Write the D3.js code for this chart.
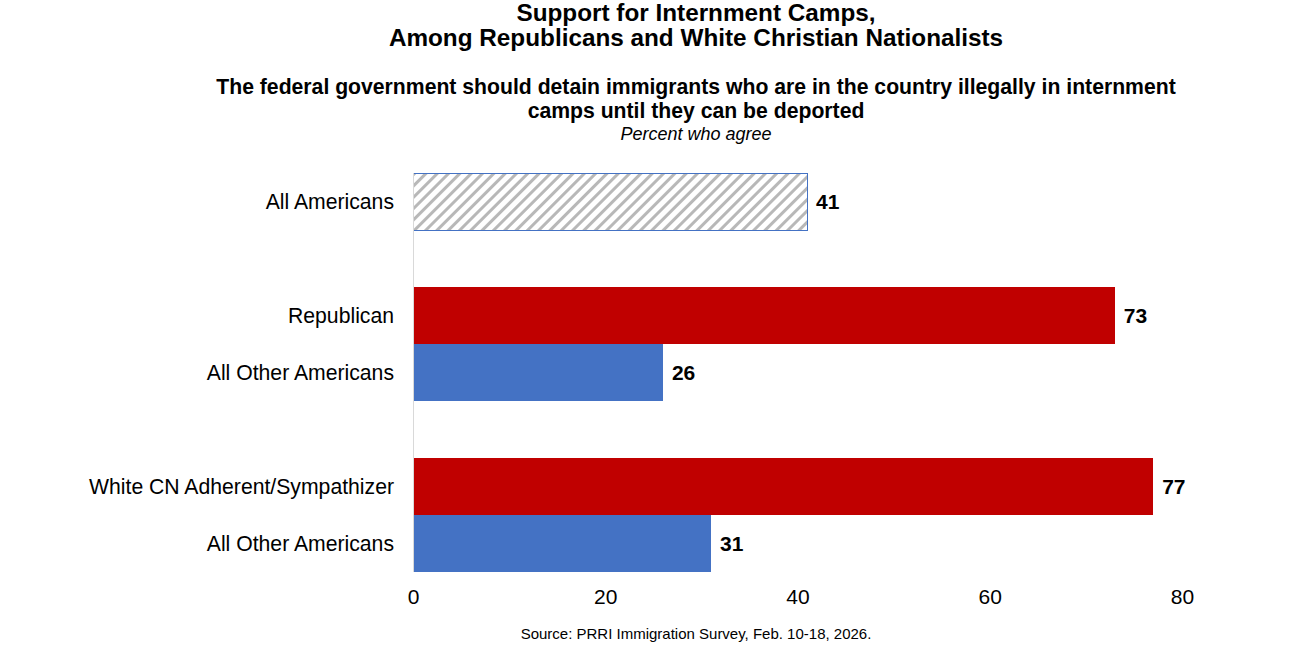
<!DOCTYPE html>
<html>
<head>
  <meta charset="UTF-8">
  <title>Support for Internment Camps</title>
  <script src="https://d3js.org/d3.v7.min.js"></script>
  <style>
    body { margin: 0; background: #fff; font-family: "Liberation Sans", Arial, sans-serif; }
    .title { font-size: 24.3px; font-weight: bold; }
    .subtitle { font-size: 21.2px; font-weight: bold; }
    .note { font-size: 18px; font-style: italic; }
    .source { font-size: 15px; }
    .cat-label { font-size: 21.2px; }
    .value-label { font-size: 21px; font-weight: bold; }
    .x-axis text { font-size: 21px; font-family: "Liberation Sans", Arial, sans-serif; }
    .x-axis path, .x-axis line { display: none; }
  </style>
</head>
<body>
  <svg width="1300" height="650"></svg>

  <script>
    // rows top to bottom, blank ids are the gaps between groups
    const rowIds = ["all", "gap1", "rep", "oth1", "gap2", "wcn", "oth2"];
    const labels = ["All Americans", "", "Republican", "All Other Americans", "", "White CN Adherent/Sympathizer", "All Other Americans"];
    const values = [41, null, 73, 26, null, 77, 31];
    const kinds = ["hatch", null, "red", "blue", null, "red", "blue"];
    const xTicks = [0, 20, 40, 60, 80];

    const rows = rowIds.map((id, i) => ({ id: id, label: labels[i], value: values[i], kind: kinds[i] }));

    const svg = d3.select("svg");
    const margin = { top: 173, right: 118, bottom: 78, left: 413 };
    const width = 1300 - margin.left - margin.right;
    const height = 650 - margin.top - margin.bottom;

    const defs = svg.append("defs");
    const pat = defs.append("pattern")
      .attr("id", "hatch")
      .attr("patternUnits", "userSpaceOnUse")
      .attr("width", 8)
      .attr("height", 8)
      .attr("patternTransform", "rotate(45)");
    pat.append("rect").attr("width", 8).attr("height", 8).attr("fill", "#fff");
    pat.append("rect").attr("x", 0).attr("width", 3).attr("height", 8).attr("fill", "#b8b8b8");

    const fills = { hatch: "url(#hatch)", red: "#c00000", blue: "#4472c4" };

    const x = d3.scaleLinear().domain([0, 80]).range([0, width]);
    const y = d3.scaleBand().domain(rowIds).range([0, height]).padding(0);

    const g = svg.append("g").attr("transform", `translate(${margin.left},${margin.top})`);

    // titles
    const cx = 696;
    svg.append("text").attr("class", "title").attr("x", cx).attr("y", 21).attr("text-anchor", "middle")
      .text("Support for Internment Camps,");
    svg.append("text").attr("class", "title").attr("x", cx).attr("y", 46).attr("text-anchor", "middle")
      .text("Among Republicans and White Christian Nationalists");
    svg.append("text").attr("class", "subtitle").attr("x", cx).attr("y", 94).attr("text-anchor", "middle")
      .text("The federal government should detain immigrants who are in the country illegally in internment");
    svg.append("text").attr("class", "subtitle").attr("x", cx).attr("y", 118).attr("text-anchor", "middle")
      .text("camps until they can be deported");
    svg.append("text").attr("class", "note").attr("x", cx).attr("y", 140).attr("text-anchor", "middle")
      .text("Percent who agree");

    const data = rows.filter(d => d.value !== null);

    g.selectAll(".bar")
      .data(data)
      .enter()
      .append("rect")
      .attr("class", "bar")
      .attr("x", 0)
      .attr("y", d => y(d.id))
      .attr("width", d => x(d.value))
      .attr("height", y.bandwidth())
      .attr("fill", d => fills[d.kind])
      .attr("stroke", d => d.kind === "hatch" ? "#4472c4" : "none")
      .attr("stroke-width", 1)
      .attr("shape-rendering", "crispEdges");

    // vertical axis line
    g.append("line")
      .attr("x1", 0.5).attr("x2", 0.5)
      .attr("y1", 0).attr("y2", height)
      .attr("stroke", "#d9d9d9");

    g.selectAll(".cat-label")
      .data(data)
      .enter()
      .append("text")
      .attr("class", "cat-label")
      .attr("x", -19)
      .attr("y", d => y(d.id) + y.bandwidth() / 2)
      .attr("dy", "0.35em")
      .attr("text-anchor", "end")
      .text(d => d.label);

    g.selectAll(".value-label")
      .data(data)
      .enter()
      .append("text")
      .attr("class", "value-label")
      .attr("x", d => x(d.value) + 9)
      .attr("y", d => y(d.id) + y.bandwidth() / 2)
      .attr("dy", "0.35em")
      .text(d => d.value);

    g.append("g")
      .attr("class", "x-axis")
      .attr("transform", `translate(0, ${height})`)
      .call(d3.axisBottom(x).tickValues(xTicks).tickSize(0).tickPadding(17));

    svg.append("text").attr("class", "source").attr("x", cx).attr("y", 639).attr("text-anchor", "middle")
      .text("Source: PRRI Immigration Survey, Feb. 10-18, 2026.");
  </script>
</body>
</html>
